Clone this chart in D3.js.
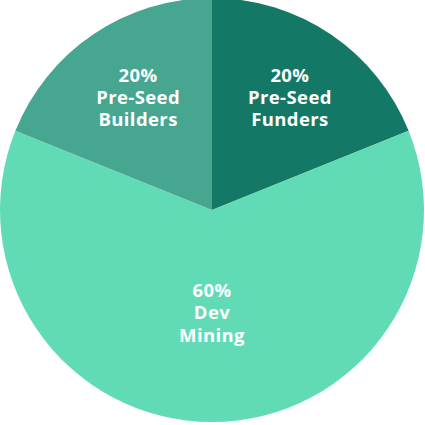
<!DOCTYPE html>
<html><head><meta charset="utf-8">
<script src="https://cdn.jsdelivr.net/npm/d3@7"></script>
<style>html,body{margin:0;padding:0;background:#fff;}</style>
</head><body>
<svg id="chart" width="425" height="425"></svg>
<script>
const categories = ["Pre-Seed Funders", "Dev Mining", "Pre-Seed Builders"];
const labelLines = [["20%", "Pre-Seed", "Funders"], ["60%", "Dev", "Mining"], ["20%", "Pre-Seed", "Builders"]];
// arc sizes as drawn in the picture (each small wedge spans ~68 degrees)
const values = [18.9, 62.2, 18.9];
const colors = ["#137966", "#61dbb5", "#46a690"];

const cx = 212, cy = 210, R = 212;
const svg = d3.select("#chart");
const g = svg.append("g").attr("transform", `translate(${cx},${cy})`);
const data = categories.map((c, i) => ({ c, v: values[i], lines: labelLines[i], color: colors[i] }));
const pie = d3.pie().value(d => d.v).sort(null);
const arc = d3.arc().innerRadius(0).outerRadius(R);
const arcs = pie(data);
g.selectAll("path").data(arcs).join("path").attr("d", arc).attr("fill", d => d.data.color);

const lh = 22.3;
arcs.forEach(a => {
  const mid = (a.startAngle + a.endAngle) / 2;
  const lr = a.data.v < 30 ? R * 0.64 : R * 0.485;
  const x = lr * Math.sin(mid) + (a.data.v < 30 ? 2 : 0), y = -lr * Math.cos(mid);
  const t = g.append("text").attr("text-anchor", "middle")
    .attr("font-family", "'Open Sans', sans-serif").attr("font-weight", 700)
    .attr("font-size", 18.5).attr("letter-spacing", "0.4px").attr("fill", "#fff");
  a.data.lines.forEach((l, i) => {
    t.append("tspan").attr("x", x).attr("y", y + (i - 1) * lh + 6.5).text(l);
  });
});
</script>
</body></html>
